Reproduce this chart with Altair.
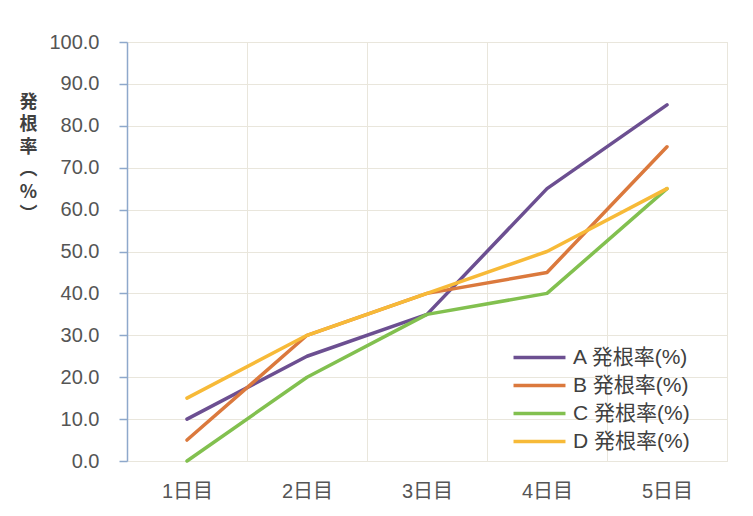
import altair as alt
import pandas as pd

days = ["1日目", "2日目", "3日目", "4日目", "5日目"]
series_names = ["A 発根率(%)", "B 発根率(%)", "C 発根率(%)", "D 発根率(%)"]
rate_a = [10, 25, 35, 65, 85]
rate_b = [5, 30, 40, 45, 75]
rate_c = [0, 20, 35, 40, 65]
rate_d = [15, 30, 40, 50, 65]
colors = ["#6C4F91", "#DB793D", "#82C04F", "#F7BA38"]

rows = []
for name, vals in zip(series_names, [rate_a, rate_b, rate_c, rate_d]):
    for d, v in zip(days, vals):
        rows.append({"day": d, "series": name, "rate": v})
df = pd.DataFrame(rows)

font = "Liberation Sans, Noto Sans CJK JP, sans-serif"
cjk = "Noto Sans CJK JP"
axis_blue = "#8EA8CB"
grid = "#E9E6DC"

chart = (
    alt.Chart(df)
    .mark_line(strokeWidth=3.5, strokeCap="round", strokeJoin="round")
    .encode(
        x=alt.X(
            "day:N",
            sort=days,
            bandPosition=0.5,
            scale=alt.Scale(type="band", paddingInner=0, paddingOuter=0),
            axis=alt.Axis(
                title=None,
                labelAngle=0,
                domain=False,
                ticks=False,
                tickBand="extent",
                grid=True,
                gridColor=grid,
                labelFontSize=20,
                labelColor="#555555",
                labelPadding=20,
                labelFont=font,
            ),
        ),
        y=alt.Y(
            "rate:Q",
            scale=alt.Scale(domain=[0, 100], nice=False),
            axis=alt.Axis(
                values=list(range(0, 101, 10)),
                format=".1f",
                # vertical title, one character per line
                title=["発", "根", "率", "︵", "%", "︶"],
                titleAngle=0,
                titleFont=cjk,
                titleFontSize=18,
                titleFontWeight="bold",
                titleColor="#404040",
                titleLineHeight=22.5,
                titleX=-99,
                titleY=51,
                titleAlign="center",
                titleBaseline="top",
                domainColor=axis_blue,
                domainWidth=1.5,
                tickColor=axis_blue,
                tickWidth=1.5,
                tickSize=8,
                labelFontSize=20,
                labelColor="#555555",
                labelPadding=20,
                labelFont=font,
                gridColor=grid,
            ),
        ),
        color=alt.Color(
            "series:N",
            sort=series_names,
            scale=alt.Scale(domain=series_names, range=colors),
            legend=alt.Legend(
                title=None,
                orient="none",
                legendX=402,
                legendY=305,
                # wide horizontal stroke as the legend key
                symbolType="M-5,0H5",
                symbolSize=108,
                symbolStrokeWidth=3.5,
                labelFontSize=21,
                labelColor="#404040",
                labelFont=font,
                rowPadding=6,
                labelOffset=23,
            ),
        ),
    )
    .properties(
        width=600,
        height=419,
        autosize=alt.AutoSizeParams(type="none"),
        padding={"left": 127, "top": 42, "right": 26, "bottom": 55},
    )
    .configure_view(fill="#FBFAF6", stroke=None)
    .configure(background="white")
)

chart.save("out.html", embed_options={"renderer": "svg", "actions": False})
